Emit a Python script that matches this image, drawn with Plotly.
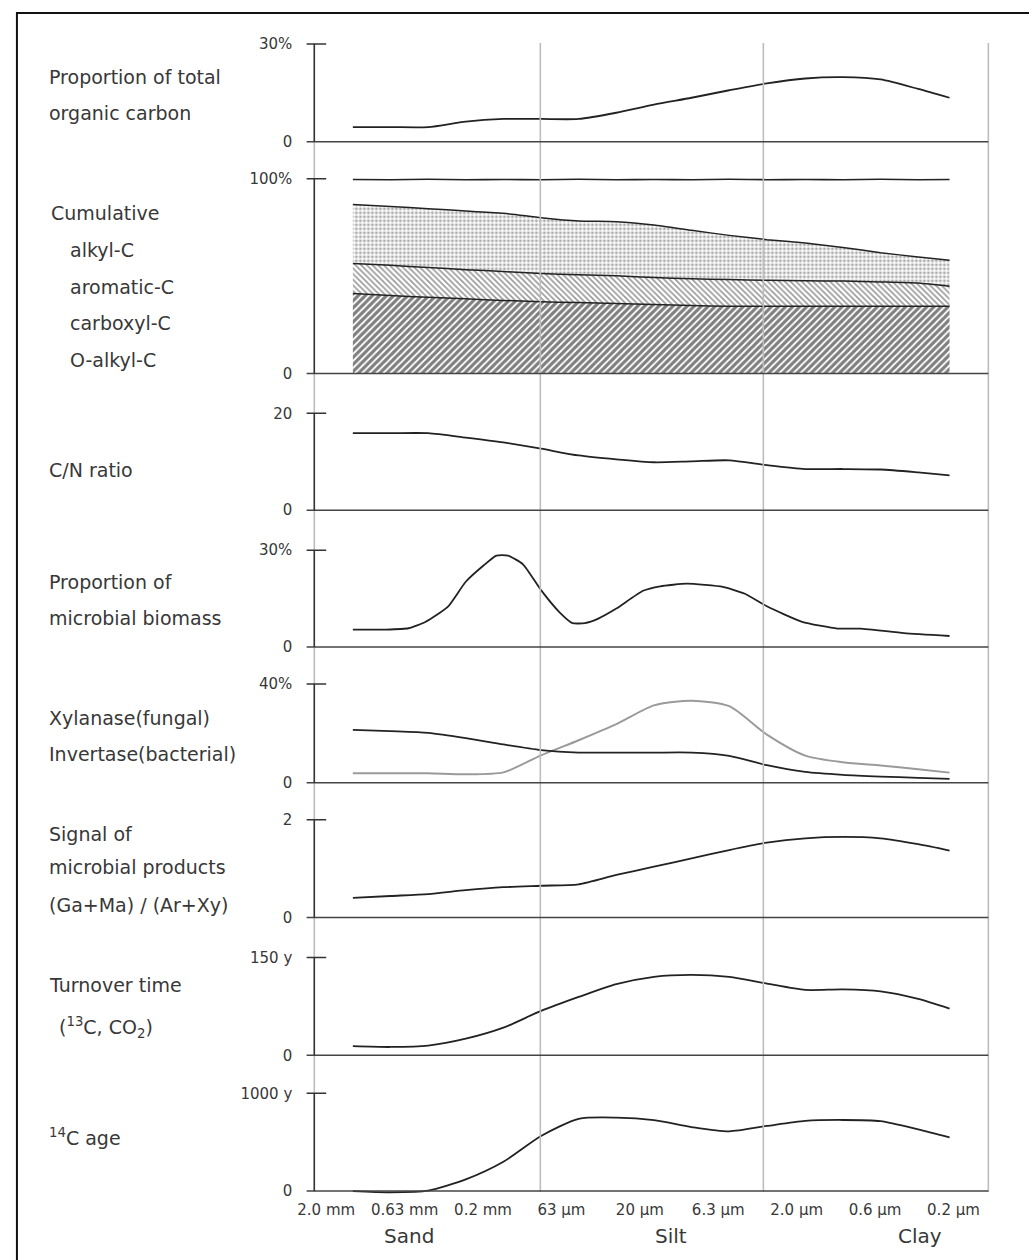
import plotly.graph_objects as go

W, H = 1029, 1260

# ---------------- data ----------------
X_TICK_LABELS = ['2.0 mm', '0.63 mm', '0.2 mm', '63 µm', '20 µm', '6.3 µm', '2.0 µm', '0.6 µm', '0.2 µm']
X_TICK_POS = [0, 1, 2, 3, 4, 5, 6, 7, 8]
GROUPS = ['Sand', 'Silt', 'Clay']
GROUP_POS = [1.06, 4.40, 7.57]

# common x positions of the readings (index units of the size-fraction axis)
X_GRID = [0.34, 0.82, 1.30, 1.78, 2.26, 2.74, 3.22, 3.70, 4.18, 4.66, 5.14, 5.62, 6.11, 6.59, 7.07, 7.55, 7.95]

toc = [4.5, 4.5, 4.5, 6.2, 7.0, 7.0, 7.0, 8.9, 11.4, 13.5, 15.8, 17.9, 19.4, 19.8, 19.1, 16.2, 13.5]

total_line = [99.6, 99.5, 99.7, 99.5, 99.6, 99.5, 99.7, 99.5, 99.6, 99.5, 99.7, 99.5, 99.6, 99.5, 99.7, 99.5, 99.6]
aromatic_top = [86.7, 85.7, 84.6, 83.4, 82.3, 80.0, 78.3, 77.9, 76.2, 73.5, 70.9, 68.7, 67.0, 64.7, 62.0, 59.8, 58.1]
carboxyl_top = [56.4, 55.5, 54.4, 53.3, 52.3, 51.3, 50.7, 50.1, 49.3, 48.6, 48.2, 47.8, 47.6, 47.4, 47.0, 46.4, 44.8]
oalkyl_top = [41.0, 40.0, 39.1, 38.3, 37.5, 36.8, 36.4, 35.9, 35.4, 34.9, 34.5, 34.5, 34.5, 34.5, 34.5, 34.5, 34.5]

cn_ratio = [15.9, 15.9, 15.9, 15.0, 14.0, 12.7, 11.3, 10.5, 9.9, 10.1, 10.3, 9.3, 8.5, 8.5, 8.4, 7.8, 7.2]

biomass_x = [0.34, 0.76, 1.05, 1.27, 1.55, 1.78, 2.01, 2.17, 2.32, 2.51, 2.74, 2.97, 3.14, 3.30,
             3.47, 3.70, 4.04, 4.26, 4.60, 5.06, 5.34, 5.62, 6.07, 6.52, 6.81, 7.37, 7.95]
biomass = [5.4, 5.4, 5.8, 7.8, 12.4, 20.2, 25.3, 28.3, 28.3, 25.6, 17.6, 10.9, 7.4, 7.4,
           8.8, 11.9, 17.4, 18.8, 19.6, 18.6, 16.5, 12.6, 7.8, 5.7, 5.7, 4.3, 3.4]

xylanase = [21.4, 20.9, 20.2, 18.1, 15.5, 13.2, 12.2, 12.2, 12.2, 12.2, 10.9, 7.1, 4.4, 3.2, 2.5, 2.0, 1.6]
invertase = [3.8, 3.8, 3.8, 3.4, 4.2, 11.1, 17.2, 23.7, 31.3, 33.2, 31.0, 19.5, 11.0, 8.3, 7.0, 5.5, 4.1]

signal = [0.40, 0.44, 0.48, 0.56, 0.62, 0.65, 0.68, 0.87, 1.04, 1.21, 1.38, 1.53, 1.62, 1.65, 1.62, 1.50, 1.37]

turnover = [14.0, 12.8, 15.0, 25.5, 42.4, 68.1, 89.5, 109.1, 120.4, 123.4, 120.2, 110.0, 100.3, 101.1, 98.1, 86.5, 71.7]

c14_age = [0, -12, 5, 120, 300, 563, 738, 751, 725, 655, 611, 666, 718, 727, 715, 631, 549]

# ---------------- layout helpers ----------------
def fy(px):
    return 1 - px / H

def ix(px):
    return (px - 320) / 79.1

PANELS = [
    dict(top=43, zero=141, vmax=30, labels=['0', '30%']),
    dict(top=178, zero=373, vmax=100, labels=['0', '100%']),
    dict(top=413, zero=510, vmax=20, labels=['0', '20']),
    dict(top=550, zero=647, vmax=30, labels=['0', '30%']),
    dict(top=684, zero=783, vmax=40, labels=['0', '40%']),
    dict(top=820, zero=918, vmax=2, labels=['0', '2']),
    dict(top=958, zero=1056, vmax=150, labels=['0', '150 y']),
    dict(top=1094, zero=1192, vmax=1000, labels=['0', '1000 y']),
]
YREF = ['y', 'y2', 'y3', 'y4', 'y5', 'y6', 'y7', 'y8']
FONT = 'DejaVu Sans, Liberation Sans, Arial, sans-serif'
TXT = '#383838'

fig = go.Figure()

def add_line(x, y, k, color='#222222', width=1.8, smoothing=0.7, **kw):
    fig.add_trace(go.Scatter(x=x, y=y, mode='lines', yaxis=YREF[k], xaxis='x',
                             line=dict(color=color, width=width, shape='spline', smoothing=smoothing),
                             showlegend=False, hoverinfo='skip', **kw))

add_line(X_GRID, toc, 0)

# cumulative panel
fig.add_trace(go.Scatter(x=X_GRID, y=oalkyl_top, yaxis='y2', xaxis='x', mode='lines',
                         line=dict(color='#222222', width=1.5, shape='spline', smoothing=0.6),
                         fill='tozeroy', fillcolor='white',
                         fillpattern=dict(shape='/', fgcolor='#000000', bgcolor='white', size=5, solidity=0.65),
                         showlegend=False, hoverinfo='skip', name='O-alkyl-C'))
fig.add_trace(go.Scatter(x=X_GRID, y=carboxyl_top, yaxis='y2', xaxis='x', mode='lines',
                         line=dict(color='#222222', width=1.5, shape='spline', smoothing=0.6),
                         fill='tonexty', fillcolor='white',
                         fillpattern=dict(shape='\\', fgcolor='#333333', bgcolor='white', size=4, solidity=0.4),
                         showlegend=False, hoverinfo='skip', name='carboxyl-C'))
fig.add_trace(go.Scatter(x=X_GRID, y=aromatic_top, yaxis='y2', xaxis='x', mode='lines',
                         line=dict(color='#222222', width=1.5, shape='spline', smoothing=0.6),
                         fill='tonexty', fillcolor='white',
                         fillpattern=dict(shape='.', fgcolor='#555555', bgcolor='white', size=4, solidity=0.45),
                         showlegend=False, hoverinfo='skip', name='aromatic-C'))
add_line(X_GRID, total_line, 1, width=1.6, name='alkyl-C')

add_line(X_GRID, cn_ratio, 2)
add_line(biomass_x, biomass, 3, smoothing=0.5)
add_line(X_GRID, invertase, 4, color='#9a9a9a', width=2)
add_line(X_GRID, xylanase, 4)
add_line(X_GRID, signal, 5)
add_line(X_GRID, turnover, 6)
add_line(X_GRID, c14_age, 7)

layout = dict(
    width=W, height=H, margin=dict(l=0, r=0, t=0, b=0, pad=0), autosize=False,
    paper_bgcolor='white', plot_bgcolor='rgba(0,0,0,0)',
    font=dict(family=FONT, color=TXT),
    showlegend=False,
    xaxis=dict(domain=[300 / W, 990 / W], range=[ix(300), ix(990)], anchor='y8',
               tickvals=X_TICK_POS, ticktext=X_TICK_LABELS, ticks='',
               showgrid=False, zeroline=False, showline=False,
               tickfont=dict(size=15, color=TXT, family=FONT), fixedrange=True),
)
E = 8
for k, p in enumerate(PANELS):
    per = p['vmax'] / (p['zero'] - p['top'])
    name = 'yaxis' if k == 0 else f'yaxis{k + 1}'
    layout[name] = dict(domain=[fy(p['zero'] + E), fy(p['top'] - E)],
                        range=[-E * per, p['vmax'] + E * per],
                        anchor='free', position=308 / W,
                        tickvals=[0, p['vmax']], ticktext=p['labels'],
                        ticks='outside', ticklen=19, tickcolor='rgba(0,0,0,0)',
                        showgrid=False, zeroline=False, showline=False,
                        tickfont=dict(size=15, color=TXT, family=FONT), fixedrange=True)
fig.update_layout(**layout)

shapes = []
# gray vertical lines
for px in [308, 536, 761, 988]:
    shapes.append(dict(type='line', xref='x', yref='paper', x0=ix(px), x1=ix(px),
                       y0=fy(1193), y1=fy(42), line=dict(color='#bdbdbd', width=1.6), layer='above'))
for k, p in enumerate(PANELS):
    yr = YREF[k]
    shapes.append(dict(type='line', xref='x', yref=yr, x0=ix(300), x1=ix(988), y0=0, y1=0,
                       line=dict(color='#444444', width=1.5), layer='above'))
    shapes.append(dict(type='line', xref='x', yref=yr, x0=ix(308), x1=ix(308), y0=0, y1=p['vmax'],
                       line=dict(color='#333333', width=1.5), layer='above'))
    shapes.append(dict(type='line', xref='x', yref=yr, x0=ix(300), x1=ix(320), y0=p['vmax'], y1=p['vmax'],
                       line=dict(color='#333333', width=1.5), layer='above'))
# outer frame
shapes.append(dict(type='rect', xref='paper', yref='paper', x0=8 / W, x1=1.02, y0=-0.02, y1=fy(12),
                   line=dict(color='#111111', width=2), fillcolor='rgba(0,0,0,0)', layer='above'))
fig.update_layout(shapes=shapes)

# left labels
LABELS = [
    ('Proportion of total', 38, 76), ('organic carbon', 38, 112),
    ('Cumulative', 40, 212), ('alkyl-C', 60, 249), ('aromatic-C', 60, 286),
    ('carboxyl-C', 60, 323), ('O-alkyl-C', 60, 360),
    ('C/N ratio', 38, 470),
    ('Proportion of', 38, 582), ('microbial biomass', 38, 618),
    ('Xylanase(fungal)', 38, 718), ('Invertase(bacterial)', 38, 754),
    ('Signal of', 38, 834), ('microbial products', 38, 867), ('(Ga+Ma) / (Ar+Xy)', 38, 905),
    ('Turnover time', 38, 986), ('(<sup>13</sup>C, CO<sub>2</sub>)', 48, 1028),
    ('<sup>14</sup>C age', 38, 1138),
]
ann = []
for text, x, y in LABELS:
    ann.append(dict(text=text, xref='paper', yref='paper', x=x / W, y=fy(y), xanchor='left',
                    yanchor='middle', showarrow=False, font=dict(size=19, color=TXT, family=FONT)))
for g, gx in zip(GROUPS, GROUP_POS):
    ann.append(dict(text=g, xref='x', yref='paper', x=gx, y=fy(1237), xanchor='center',
                    yanchor='middle', showarrow=False, font=dict(size=20, color=TXT, family=FONT)))
fig.update_layout(annotations=ann)

fig.write_html('out.html', config={'displayModeBar': False},
               post_script="document.body.style.margin='0';document.body.style.padding='0';"
                           "document.documentElement.style.overflow='hidden';document.body.style.overflow='hidden';")
